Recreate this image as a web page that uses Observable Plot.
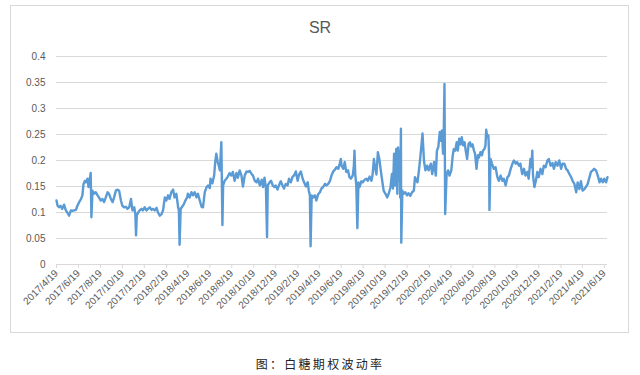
<!DOCTYPE html>
<html>
<head>
<meta charset="utf-8">
<script src="https://cdn.jsdelivr.net/npm/d3@7"></script>
<script src="https://cdn.jsdelivr.net/npm/@observablehq/plot@0.6"></script>
<style>
  html, body { margin: 0; padding: 0; background: #fff; }
  #wrap { position: relative; width: 640px; height: 375px; overflow: hidden; }
  #frame { position: absolute; left: 10px; top: 5px; width: 619px; height: 328px; box-sizing: border-box; border: 1px solid #d9d9d9; pointer-events: none; }
  #title { position: absolute; left: 0; width: 640px; top: 19px; text-align: center; font: 16px "Liberation Sans", "Open Sans", sans-serif; color: #595959; }
  #chart { position: absolute; left: 0; top: 0; }
  #caption { position: absolute; left: 0; width: 640px; top: 355px; text-align: center; font: 12px "Noto Sans CJK SC", sans-serif; letter-spacing: 2.3px; color: #222; }
</style>
</head>
<body>
<div id="wrap">
  <div id="frame"></div>
  <div id="chart"></div>
  <div id="title">SR</div>
  <div id="caption">图：白糖期权波动率</div>
</div>
<script>
const chartTitle = "SR";
const captionText = "图：白糖期权波动率";

const yTicks = [0, 0.05, 0.1, 0.15, 0.2, 0.25, 0.3, 0.35, 0.4];

const xTickLabels = [
  "2017/4/19","2017/6/19","2017/8/19","2017/10/19","2017/12/19",
  "2018/2/19","2018/4/19","2018/6/19","2018/8/19","2018/10/19","2018/12/19",
  "2019/2/19","2019/4/19","2019/6/19","2019/8/19","2019/10/19","2019/12/19",
  "2020/2/19","2020/4/19","2020/6/19","2020/8/19","2020/10/19","2020/12/19",
  "2021/2/19","2021/4/19","2021/6/19"
];

const sr2017 = [
  ["2017-04-19",0.123],["2017-04-22",0.113],["2017-04-26",0.110],["2017-04-30",0.113],["2017-05-05",0.107],
  ["2017-05-10",0.115],["2017-05-15",0.104],["2017-05-19",0.100],["2017-05-24",0.094],["2017-05-29",0.104],
  ["2017-06-02",0.103],["2017-06-07",0.104],["2017-06-12",0.105],["2017-06-16",0.113],["2017-06-21",0.120],
  ["2017-06-26",0.126],["2017-06-30",0.133],["2017-07-03",0.155],["2017-07-07",0.161],["2017-07-10",0.158],
  ["2017-07-14",0.165],["2017-07-17",0.149],["2017-07-20",0.161],["2017-07-23",0.176],["2017-07-25",0.091],
  ["2017-07-28",0.142],["2017-08-01",0.136],["2017-08-06",0.139],["2017-08-11",0.133],["2017-08-15",0.129],
  ["2017-08-20",0.123],["2017-08-25",0.126],["2017-08-29",0.120],["2017-09-03",0.129],["2017-09-08",0.139],
  ["2017-09-12",0.136],["2017-09-17",0.126],["2017-09-22",0.120],["2017-09-26",0.129],["2017-10-01",0.142],
  ["2017-10-06",0.144],["2017-10-10",0.142],["2017-10-15",0.123],["2017-10-19",0.113],["2017-10-24",0.110],
  ["2017-10-29",0.111],["2017-11-02",0.107],["2017-11-07",0.110],["2017-11-12",0.126],["2017-11-16",0.104],
  ["2017-11-21",0.110],["2017-11-24",0.097],["2017-11-26",0.056],["2017-11-28",0.094],["2017-12-02",0.100],
  ["2017-12-06",0.104],["2017-12-11",0.107],["2017-12-15",0.104],["2017-12-20",0.110],["2017-12-25",0.104],
  ["2017-12-29",0.107]
];

const sr2018 = [
  ["2018-01-03",0.110],["2018-01-08",0.105],["2018-01-12",0.107],["2018-01-17",0.104],["2018-01-22",0.109],
  ["2018-01-26",0.100],["2018-01-31",0.094],["2018-02-05",0.097],["2018-02-09",0.104],["2018-02-14",0.129],
  ["2018-02-18",0.123],["2018-02-23",0.133],["2018-02-27",0.126],["2018-03-04",0.139],["2018-03-09",0.144],
  ["2018-03-13",0.129],["2018-03-18",0.136],["2018-03-23",0.110],["2018-03-25",0.104],["2018-03-27",0.038],
  ["2018-03-30",0.107],["2018-04-03",0.111],["2018-04-08",0.116],["2018-04-12",0.123],["2018-04-17",0.129],
  ["2018-04-19",0.136],["2018-04-24",0.129],["2018-04-29",0.139],["2018-05-03",0.133],["2018-05-08",0.139],
  ["2018-05-13",0.129],["2018-05-17",0.136],["2018-05-22",0.123],["2018-05-27",0.111],["2018-05-31",0.110],
  ["2018-06-05",0.139],["2018-06-10",0.149],["2018-06-14",0.152],["2018-06-19",0.147],["2018-06-21",0.165],
  ["2018-06-26",0.156],["2018-07-01",0.171],["2018-07-04",0.197],["2018-07-07",0.213],["2018-07-11",0.197],
  ["2018-07-14",0.190],["2018-07-17",0.181],["2018-07-21",0.235],["2018-07-24",0.076],["2018-07-26",0.152],
  ["2018-07-30",0.161],["2018-08-04",0.165],["2018-08-08",0.169],["2018-08-13",0.176],["2018-08-18",0.171],
  ["2018-08-22",0.178],["2018-08-27",0.161],["2018-09-01",0.176],["2018-09-05",0.167],["2018-09-10",0.181],
  ["2018-09-15",0.171],["2018-09-19",0.150],["2018-09-24",0.171],["2018-09-29",0.179],["2018-10-03",0.178],
  ["2018-10-08",0.180],["2018-10-13",0.174],["2018-10-17",0.171],["2018-10-22",0.161],["2018-10-27",0.158],
  ["2018-10-31",0.165],["2018-11-05",0.152],["2018-11-10",0.163],["2018-11-14",0.149],["2018-11-18",0.167],
  ["2018-11-22",0.146],["2018-11-25",0.053],["2018-11-27",0.152],["2018-12-02",0.158],["2018-12-06",0.161],
  ["2018-12-11",0.152],["2018-12-15",0.149],["2018-12-19",0.152],["2018-12-24",0.144],["2018-12-28",0.152]
];

const sr2019 = [
  ["2019-01-02",0.160],["2019-01-07",0.152],["2019-01-11",0.146],["2019-01-16",0.155],["2019-01-21",0.152],
  ["2019-01-25",0.165],["2019-01-30",0.158],["2019-02-04",0.169],["2019-02-08",0.171],["2019-02-13",0.179],
  ["2019-02-18",0.161],["2019-02-22",0.173],["2019-02-27",0.179],["2019-03-04",0.165],["2019-03-08",0.158],
  ["2019-03-13",0.150],["2019-03-18",0.158],["2019-03-21",0.142],["2019-03-24",0.133],["2019-03-26",0.035],
  ["2019-03-29",0.133],["2019-04-02",0.129],["2019-04-07",0.133],["2019-04-11",0.123],["2019-04-16",0.135],
  ["2019-04-21",0.139],["2019-04-25",0.146],["2019-04-30",0.149],["2019-05-05",0.155],["2019-05-09",0.152],
  ["2019-05-14",0.155],["2019-05-19",0.161],["2019-05-23",0.171],["2019-05-28",0.179],["2019-06-01",0.182],
  ["2019-06-06",0.187],["2019-06-11",0.184],["2019-06-15",0.194],["2019-06-18",0.203],["2019-06-20",0.190],
  ["2019-06-25",0.184],["2019-06-29",0.197],["2019-07-03",0.178],["2019-07-08",0.181],["2019-07-12",0.168],
  ["2019-07-16",0.165],["2019-07-21",0.171],["2019-07-24",0.187],["2019-07-26",0.219],["2019-07-28",0.174],
  ["2019-07-31",0.152],["2019-08-03",0.070],["2019-08-06",0.158],["2019-08-09",0.149],["2019-08-14",0.160],
  ["2019-08-18",0.158],["2019-08-23",0.163],["2019-08-28",0.165],["2019-09-01",0.161],["2019-09-06",0.169],
  ["2019-09-11",0.161],["2019-09-14",0.171],["2019-09-18",0.203],["2019-09-21",0.187],["2019-09-25",0.173],
  ["2019-09-29",0.216],["2019-10-03",0.203],["2019-10-07",0.181],["2019-10-11",0.161],["2019-10-15",0.142],
  ["2019-10-20",0.136],["2019-10-25",0.129],["2019-10-29",0.136],["2019-11-03",0.148],["2019-11-07",0.174],
  ["2019-11-10",0.146],["2019-11-13",0.213],["2019-11-16",0.152],["2019-11-19",0.222],["2019-11-22",0.136],
  ["2019-11-24",0.225],["2019-11-27",0.161],["2019-11-29",0.219],["2019-11-30",0.129],["2019-12-02",0.261],
  ["2019-12-03",0.042],["2019-12-06",0.142],["2019-12-09",0.136],["2019-12-14",0.139],["2019-12-19",0.133],
  ["2019-12-23",0.137],["2019-12-28",0.132]
];

const sr2020 = [
  ["2020-01-02",0.139],["2020-01-07",0.142],["2020-01-10",0.168],["2020-01-14",0.161],["2020-01-17",0.158],
  ["2020-01-21",0.181],["2020-01-24",0.200],["2020-01-28",0.229],["2020-01-31",0.252],["2020-02-04",0.200],
  ["2020-02-08",0.181],["2020-02-13",0.190],["2020-02-17",0.181],["2020-02-23",0.194],["2020-02-27",0.174],
  ["2020-03-03",0.197],["2020-03-08",0.171],["2020-03-11",0.219],["2020-03-15",0.226],["2020-03-19",0.255],
  ["2020-03-22",0.238],["2020-03-25",0.258],["2020-03-28",0.213],["2020-03-30",0.251],["2020-04-01",0.347],
  ["2020-04-03",0.097],["2020-04-07",0.174],["2020-04-11",0.181],["2020-04-15",0.171],["2020-04-20",0.181],
  ["2020-04-24",0.210],["2020-04-27",0.222],["2020-05-01",0.219],["2020-05-05",0.235],["2020-05-08",0.219],
  ["2020-05-12",0.242],["2020-05-16",0.231],["2020-05-19",0.245],["2020-05-23",0.229],["2020-05-27",0.235],
  ["2020-05-30",0.219],["2020-06-03",0.203],["2020-06-07",0.232],["2020-06-11",0.235],["2020-06-14",0.227],
  ["2020-06-18",0.231],["2020-06-22",0.219],["2020-06-25",0.213],["2020-06-29",0.184],["2020-07-03",0.210],
  ["2020-07-06",0.206],["2020-07-10",0.216],["2020-07-14",0.210],["2020-07-17",0.219],["2020-07-21",0.222],
  ["2020-07-24",0.229],["2020-07-26",0.259],["2020-07-29",0.245],["2020-08-01",0.248],["2020-08-03",0.210],
  ["2020-08-04",0.105],["2020-08-07",0.203],["2020-08-11",0.194],["2020-08-16",0.184],["2020-08-21",0.187],
  ["2020-08-26",0.168],["2020-08-30",0.161],["2020-09-04",0.171],["2020-09-09",0.161],["2020-09-13",0.165],
  ["2020-09-18",0.152],["2020-09-23",0.168],["2020-09-27",0.171],["2020-10-02",0.184],["2020-10-07",0.194],
  ["2020-10-11",0.200],["2020-10-16",0.194],["2020-10-20",0.197],["2020-10-25",0.190],["2020-10-29",0.194],
  ["2020-11-03",0.174],["2020-11-08",0.184],["2020-11-12",0.171],["2020-11-17",0.178],["2020-11-21",0.165],
  ["2020-11-26",0.203],["2020-11-29",0.187],["2020-12-01",0.219],["2020-12-03",0.171],["2020-12-07",0.149],
  ["2020-12-11",0.161],["2020-12-15",0.178],["2020-12-19",0.168],["2020-12-24",0.184],["2020-12-29",0.174]
];

const sr2021 = [
  ["2021-01-02",0.190],["2021-01-07",0.187],["2021-01-12",0.200],["2021-01-16",0.203],["2021-01-21",0.190],
  ["2021-01-26",0.195],["2021-01-30",0.184],["2021-02-04",0.197],["2021-02-09",0.190],["2021-02-14",0.200],
  ["2021-02-19",0.184],["2021-02-23",0.194],["2021-02-28",0.194],["2021-03-05",0.184],["2021-03-09",0.181],
  ["2021-03-14",0.174],["2021-03-19",0.168],["2021-03-23",0.161],["2021-03-28",0.155],["2021-04-02",0.139],
  ["2021-04-06",0.158],["2021-04-11",0.145],["2021-04-15",0.160],["2021-04-20",0.142],["2021-04-25",0.145],
  ["2021-04-29",0.149],["2021-05-04",0.155],["2021-05-09",0.168],["2021-05-13",0.178],["2021-05-18",0.181],
  ["2021-05-22",0.184],["2021-05-27",0.181],["2021-06-01",0.171],["2021-06-06",0.158],["2021-06-10",0.165],
  ["2021-06-15",0.158],["2021-06-19",0.165],["2021-06-24",0.158],["2021-06-28",0.168]
];

const parseDay = d3.utcParse("%Y-%m-%d");
const parseTick = d3.utcParse("%Y/%m/%d");
const series = [...sr2017, ...sr2018, ...sr2019, ...sr2020, ...sr2021]
  .map(([d, v]) => ({date: parseDay(d), value: v}));
const xTicks = xTickLabels.map(s => parseTick(s));
const fmtTick = d => `${d.getUTCFullYear()}/${d.getUTCMonth() + 1}/${d.getUTCDate()}`;

const grid = "#d9d9d9";
const textColor = "#595959";

const chart = Plot.plot({
  width: 640,
  height: 335,
  marginTop: 56,
  marginBottom: 71,
  marginLeft: 56,
  marginRight: 33,
  style: {background: "transparent", fontFamily: "'Liberation Sans', Arial, sans-serif", fontSize: "10px"},
  x: {type: "utc", domain: d3.extent(series, d => d.date)},
  y: {domain: [0, 0.4]},
  marks: [
    Plot.ruleY(yTicks, {stroke: grid, strokeWidth: 1.2}),
    Plot.axisY({ticks: yTicks, tickSize: 0, tickPadding: 11, tickFormat: d3.format("~g"), fill: textColor, label: null}),
    Plot.axisX({ticks: xTicks, tickFormat: fmtTick, tickRotate: -45, tickSize: 4, tickPadding: 3, stroke: grid, fill: textColor, label: null}),
    Plot.lineY(series, {x: "date", y: "value", stroke: "#5b9bd5", strokeWidth: 2.4, strokeLinejoin: "round"})
  ]
});
document.getElementById("chart").appendChild(chart);
document.getElementById("title").textContent = chartTitle;
document.getElementById("caption").textContent = captionText;
</script>
</body>
</html>
